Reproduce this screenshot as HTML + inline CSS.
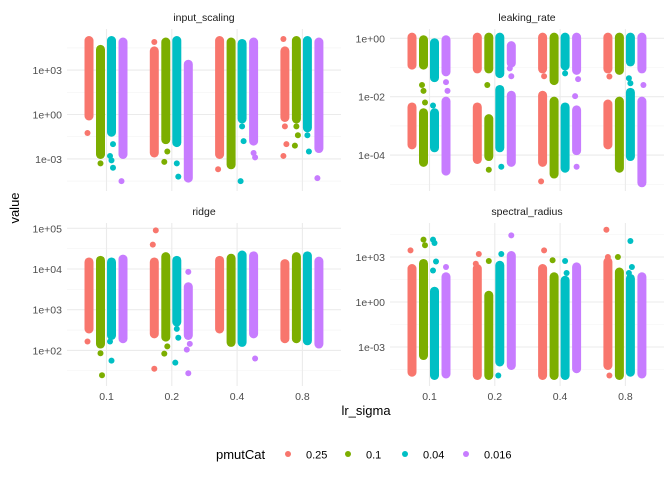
<!DOCTYPE html>
<html><head><meta charset="utf-8"><style>
body{margin:0;background:#fff}
svg text{font-family:"Liberation Sans",sans-serif}
</style></head><body>
<svg id="chart" width="672" height="480" xmlns="http://www.w3.org/2000/svg"></svg>
<script>
const categories=['0.1','0.2','0.4','0.8'];
const groups=['0.25','0.1','0.04','0.016'];
const colors=['#F8766D','#7CAE00','#00BFC4','#C77CFF'];
// [categoryIndex, groupIndex, log10 lo, log10 hi]
const inputScalingBands=[[0,0,-0.2,5.1],[0,1,-2.8,4.5],[0,2,-1.3,5.1],[0,3,-2.8,5.0],
[1,0,-2.7,4.4],[1,1,-1.8,5.0],[1,2,-2.0,5.1],[1,3,-4.4,3.5],
[2,0,-2.8,5.1],[2,1,-3.5,5.0],[2,2,-0.4,4.9],[2,3,-1.9,5.0],
[3,0,-0.3,4.4],[3,1,-0.4,5.1],[3,2,-1.0,5.1],[3,3,-2.4,5.0]];
const inputScalingOutliers=[[0,0,-1.25],[0,1,-3.3],[0,2,-2.0],[0,2,-2.8],[0,2,-3.1],[0,2,-3.6],[0,3,-4.5],
[1,0,4.9],[1,1,-2.5],[1,1,-3.2],[1,2,-3.3],[1,2,-4.2],[2,0,-3.7],[2,2,-0.8],[2,2,-1.8],[2,2,-4.5],[2,3,-2.6],[2,3,-2.9],
[3,0,5.1],[3,0,-0.8],[3,0,-2.0],[3,0,-2.8],[3,1,-0.8],[3,1,-1.4],[3,1,-2.1],[3,2,-1.4],[3,2,-2.5],[3,3,-4.3]];
const leakingRateBands=[[0,0,-0.97,0.09],[0,0,-3.7,-2.3],[0,1,-0.97,0],[0,1,-4.3,-2.5],[0,2,-1.4,-0.1],[0,2,-3.8,-2.5],[0,3,-1.2,0],[0,3,-4.6,-2.1],
[1,0,-1.1,0.09],[1,0,-4.2,-2.3],[1,1,-1.1,0.09],[1,1,-4.1,-2.7],[1,2,-1.26,0.09],[1,2,-3.8,-1.7],[1,3,-0.9,-0.2],[1,3,-4.3,-1.9],
[2,0,-1.1,0.09],[2,0,-4.3,-1.9],[2,1,-1.5,0.09],[2,1,-4.7,-2.1],[2,2,-1.0,0.09],[2,2,-4.5,-2.3],[2,3,-1.15,0.09],[2,3,-3.9,-2.4],
[3,0,-1.1,0.09],[3,0,-3.7,-2.2],[3,1,-1.15,0.09],[3,1,-4.5,-2.1],[3,2,-0.86,0.09],[3,2,-4.1,-1.8],[3,3,-1.1,0.09],[3,3,-5.0,-2.1]];
const leakingRateOutliers=[[0,1,-1.6],[0,1,-1.8],[0,1,-2.2],[0,2,-2.3],[0,3,-1.5],[0,3,-1.8],
[1,1,-1.6],[1,1,-4.5],[1,2,-4.4],[1,3,-1.03],[1,3,-1.3],[2,0,-1.3],[2,0,-4.9],[2,2,-1.2],[2,3,-1.4],[2,3,-1.98],[2,3,-4.4],
[3,0,-1.31],[3,2,-1.37],[3,2,-1.54],[3,3,-1.6]];
const ridgeBands=[[0,0,2.49,4.21],[0,1,2.12,4.25],[0,2,2.33,4.21],[0,3,2.25,4.28],
[1,0,2.37,4.21],[1,1,2.29,4.34],[1,2,2.66,4.25],[1,3,2.33,3.6],
[2,0,2.49,4.25],[2,1,2.16,4.3],[2,2,2.16,4.38],[2,3,2.37,4.36],
[3,0,2.25,4.17],[3,1,2.25,4.34],[3,2,2.2,4.36],[3,3,2.12,4.23]];
const ridgeOutliers=[[0,0,2.22],[0,1,1.93],[0,1,1.39],[0,2,2.22],[0,2,1.75],
[1,0,4.95],[1,0,4.6],[1,0,1.55],[1,1,2.1],[1,1,1.92],[1,2,2.53],[1,2,2.31],[1,2,1.7],[1,3,3.93],[1,3,2.16],[1,3,2.02],[1,3,1.44],[2,3,1.8]];
const spectralBands=[[0,0,-4.78,2.33],[0,1,-3.67,2.67],[0,2,-5.0,0.82],[0,3,-4.9,1.78],
[1,0,-5.0,2.33],[1,1,-5.0,0.55],[1,2,-4.1,2.55],[1,3,-4.33,3.2],
[2,0,-5.0,2.33],[2,1,-5.0,1.78],[2,2,-5.0,1.55],[2,3,-4.55,2.44],
[3,0,-4.33,2.78],[3,1,-5.0,2.1],[3,2,-4.78,1.67],[3,3,-4.9,1.78]];
const spectralOutliers=[[0,0,3.44],[0,1,4.16],[0,1,3.78],[0,2,4.16],[0,2,3.93],[0,2,2.7],[0,2,2.1],[0,3,2.33],
[1,0,3.2],[1,0,2.55],[1,1,2.73],[1,2,3.2],[1,2,-4.9],[1,3,4.44],[2,0,3.44],[2,1,2.78],[2,2,2.73],[2,2,1.93],
[3,0,4.82],[3,0,3.0],[3,0,-4.9],[3,1,3.0],[3,2,4.07],[3,2,2.33],[3,2,1.93]];
const inputTicks=[[3,'1e+03'],[0,'1e+00'],[-3,'1e-03']];
const leakTicks=[[0,'1e+00'],[-2,'1e-02'],[-4,'1e-04']];
const ridgeTicks=[[5,'1e+05'],[4,'1e+04'],[3,'1e+03'],[2,'1e+02']];
const spectralTicks=[[3,'1e+03'],[0,'1e+00'],[-3,'1e-03']];

const svg=document.getElementById('chart');
const NS='http://www.w3.org/2000/svg';
function mk(tag,attrs,parent){const e=document.createElementNS(NS,tag);for(const k in attrs)e.setAttribute(k,attrs[k]);(parent||svg).appendChild(e);return e;}
const offsets=[-17.5,-6,5,16.5];
const panels=[
 {name:'input-scaling',title:'input_scaling',x0:67,x1:341,y0:29,y1:191,zeroY:114.5,per:14.8,step:3,bands:inputScalingBands,outs:inputScalingOutliers,ticks:inputTicks,labelX:62},
 {name:'leaking-rate',title:'leaking_rate',x0:390,x1:664,y0:29,y1:191,zeroY:38.3,per:29.2,step:2,bands:leakingRateBands,outs:leakingRateOutliers,ticks:leakTicks,labelX:385},
 {name:'ridge',title:'ridge',x0:67,x1:341,y0:223,y1:386,zeroY:269+40.7*4,per:40.7,step:1,bands:ridgeBands,outs:ridgeOutliers,ticks:ridgeTicks,labelX:62},
 {name:'spectral-radius',title:'spectral_radius',x0:390,x1:664,y0:223,y1:386,zeroY:302,per:15,step:3,bands:spectralBands,outs:spectralOutliers,ticks:spectralTicks,labelX:385}];
panels.forEach(p=>{
 const g=mk('g',{});
 
 
 const ys=L=>p.zeroY-p.per*L;
 const xs=(c,gi)=>p.x0+39.5+65.3*c+offsets[gi];
 for(let L=-12;L<=12;L+=p.step){const m=L+p.step/2;const y=ys(m);if(y>p.y0&&y<p.y1)mk('line',{x1:p.x0,x2:p.x1,y1:y,y2:y,stroke:'#f3f3f3','stroke-width':0.6},g);}
 p.ticks.forEach(t=>{const y=ys(t[0]);
  const gl=mk('line',{x1:p.x0,x2:p.x1,y1:y,y2:y,stroke:'#ebebeb','stroke-width':1.1},g);
  
  const tx=mk('text',{x:p.labelX,y:y+4,'text-anchor':'end','font-size':'10.5px',fill:'#4d4d4d'},g);tx.textContent=t[1];
  });
 categories.forEach((c,i)=>{const x=p.x0+39.5+65.3*i;mk('line',{x1:x,x2:x,y1:p.y0,y2:p.y1,stroke:'#ebebeb','stroke-width':1.1},g);
  if(p.y0>200){const tx=mk('text',{x:x,y:400,'text-anchor':'middle','font-size':'10.5px',fill:'#4d4d4d'},g);tx.textContent=c;
  }});
 const tt=mk('text',{x:(p.x0+p.x1)/2,y:p.y0-8,'text-anchor':'middle','font-size':'10.5px',fill:'#1a1a1a'},g);tt.textContent=p.title;
 
 p.bands.forEach(b=>{const x=xs(b[0],b[1]);const ya=ys(b[3]),yb=ys(b[2]);
  const r=mk('rect',{x:x-4.5,y:ya-3,width:9,height:yb-ya+6,rx:4.5,fill:colors[b[1]]},g);
  });
 p.outs.forEach((o,k)=>{const c=mk('circle',{cx:xs(o[0],o[1])+((k%3)-1)*1.5,cy:ys(o[2]),r:3,fill:colors[o[1]]},g);
  });
});
let t=mk('text',{x:366,y:415,'text-anchor':'middle','font-size':'13px',fill:'#000'});t.textContent='lr_sigma';

t=mk('text',{x:19,y:208,'text-anchor':'middle','font-size':'13px',fill:'#000',transform:'rotate(-90 19 208)'});t.textContent='value';

t=mk('text',{x:216,y:459,'font-size':'13px',fill:'#000'});t.textContent='pmutCat';

const legX=[288,348,405,466];
groups.forEach((gname,i)=>{const c=mk('circle',{cx:legX[i],cy:454,r:3,fill:colors[i]});
 
 const tx=mk('text',{x:legX[i]+18,y:458.5,'font-size':'11px',fill:'#000'});tx.textContent=gname;
 });
</script>
</body></html>
